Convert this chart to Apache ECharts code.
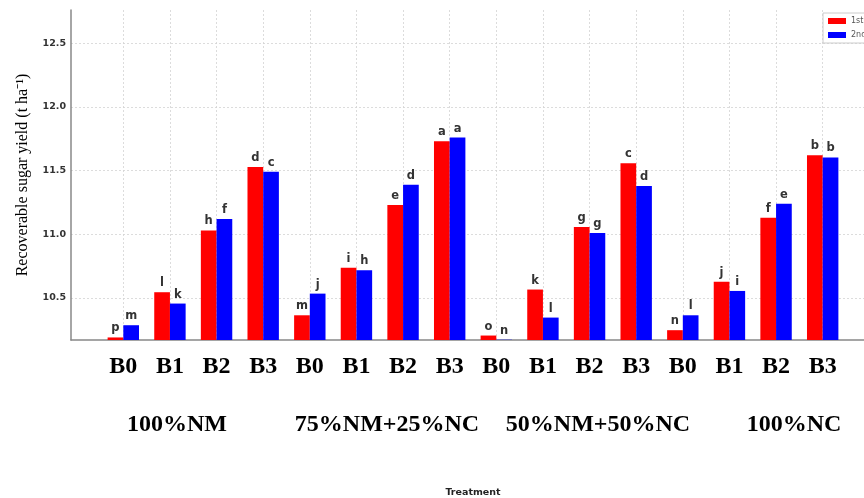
<!DOCTYPE html>
<html>
<head>
<meta charset="utf-8">
<script src="https://cdn.jsdelivr.net/npm/echarts@6/dist/echarts.min.js"></script>
<style>html,body{margin:0;padding:0;background:#fff}#c{width:864px;height:498px}</style>
</head>
<body>
<div id="c"></div>
<script>
const categories = ['B0','B1','B2','B3','B0','B1','B2','B3','B0','B1','B2','B3','B0','B1','B2','B3'];
const groupNames = ['100%NM','75%NM+25%NC','50%NM+50%NC','100%NC'];
const seriesNames = ['1st Season','2nd Season'];
const season1 = [10.19, 10.545, 11.03, 11.527, 10.364, 10.738, 11.229, 11.73, 10.205, 10.566, 11.056, 11.558, 10.247, 10.628, 11.13, 11.62];
const season2 = [10.286, 10.456, 11.119, 11.49, 10.534, 10.717, 11.389, 11.759, 10.172, 10.346, 11.009, 11.378, 10.364, 10.555, 11.24, 11.603];
const letters1 = ['p','l','h','d','m','i','e','a','o','k','g','c','n','j','f','b'];
const letters2 = ['m','k','f','c','j','h','d','a','n','l','g','d','l','i','e','b'];
const yMin = 10.17, yMax = 12.76;

const chart = echarts.init(document.getElementById('c'));
const gridLine = {show:true, lineStyle:{color:'#d4d4d4', type:[2,2], width:0.8}};
const labelStyle = {show:true, position:'top', distance:3, fontFamily:'DejaVu Sans', fontWeight:'bold', fontSize:11.5, color:'#333'};
const groupCenters = [177, 387, 598, 794];

chart.setOption({
  animation:false,
  backgroundColor:'#fff',
  legend:{
    data:seriesNames, left:823, top:13, orient:'vertical',
    itemWidth:18, itemHeight:6, itemGap:6,
    padding:[4,5], borderColor:'#ccc', borderWidth:1,
    icon:'rect',
    textStyle:{fontSize:8, color:'#555', fontFamily:'DejaVu Sans'}
  },
  grid:[
    {left:71, right:-11, top:10, bottom:158, outerBoundsMode:'none', containLabel:false},
    {left:100, width:746, top:10, bottom:158, outerBoundsMode:'none', containLabel:false}
  ],
  xAxis:[
    {type:'value', gridIndex:0, min:0, max:1, axisLine:{show:true, lineStyle:{color:'#888', width:1.5}},
     axisTick:{show:false}, axisLabel:{show:false}, splitLine:{show:false},
     name:'Treatment', nameLocation:'middle', nameGap:148,
     nameTextStyle:{fontFamily:'DejaVu Sans', fontWeight:'bold', fontSize:9.5, color:'#222'}},
    {type:'category', gridIndex:1, data:categories, boundaryGap:true,
     axisLine:{show:false}, axisTick:{show:false},
     axisLabel:{interval:0, margin:15, fontFamily:'Liberation Serif', fontWeight:'bold', fontSize:24, color:'#000'},
     splitLine:Object.assign({alignWithLabel:true, interval:0}, gridLine)}
  ],
  yAxis:[
    {type:'value', gridIndex:0, min:yMin, max:yMax, splitNumber:5,
     axisLine:{show:true, lineStyle:{color:'#888', width:1.5}}, axisTick:{show:false},
     axisLabel:{showMinLabel:false, showMaxLabel:false, margin:5, fontFamily:'DejaVu Sans', fontWeight:'bold', fontSize:9.5, color:'#333',
       formatter:v => v.toFixed(1)},
     splitLine:Object.assign({showMinLine:false, showMaxLine:false}, gridLine),
     name:'Recoverable sugar yield (t ha\u207B\u00B9)', nameLocation:'middle', nameGap:40,
     nameTextStyle:{fontFamily:'Liberation Serif', fontSize:16, color:'#000'}},
    {type:'value', gridIndex:1, min:yMin, max:yMax, show:false, splitLine:{show:false}}
  ],
  series:[
    {name:seriesNames[0], type:'bar', xAxisIndex:1, yAxisIndex:1, data:season1, barWidth:15.7, barGap:'0%',
     itemStyle:{color:'#ff0000'}, label:Object.assign({formatter:p => letters1[p.dataIndex]}, labelStyle)},
    {name:seriesNames[1], type:'bar', xAxisIndex:1, yAxisIndex:1, data:season2, barWidth:15.7, barGap:'0%',
     itemStyle:{color:'#0000ff'}, label:Object.assign({formatter:p => letters2[p.dataIndex]}, labelStyle)}
  ],
  graphic: groupNames.map((g,i) => ({
    type:'text', x:groupCenters[i], y:425,
    style:{text:g, font:'bold 24px "Liberation Serif"', fill:'#000', textAlign:'center', textVerticalAlign:'middle'}
  }))
});
</script>
</body>
</html>
